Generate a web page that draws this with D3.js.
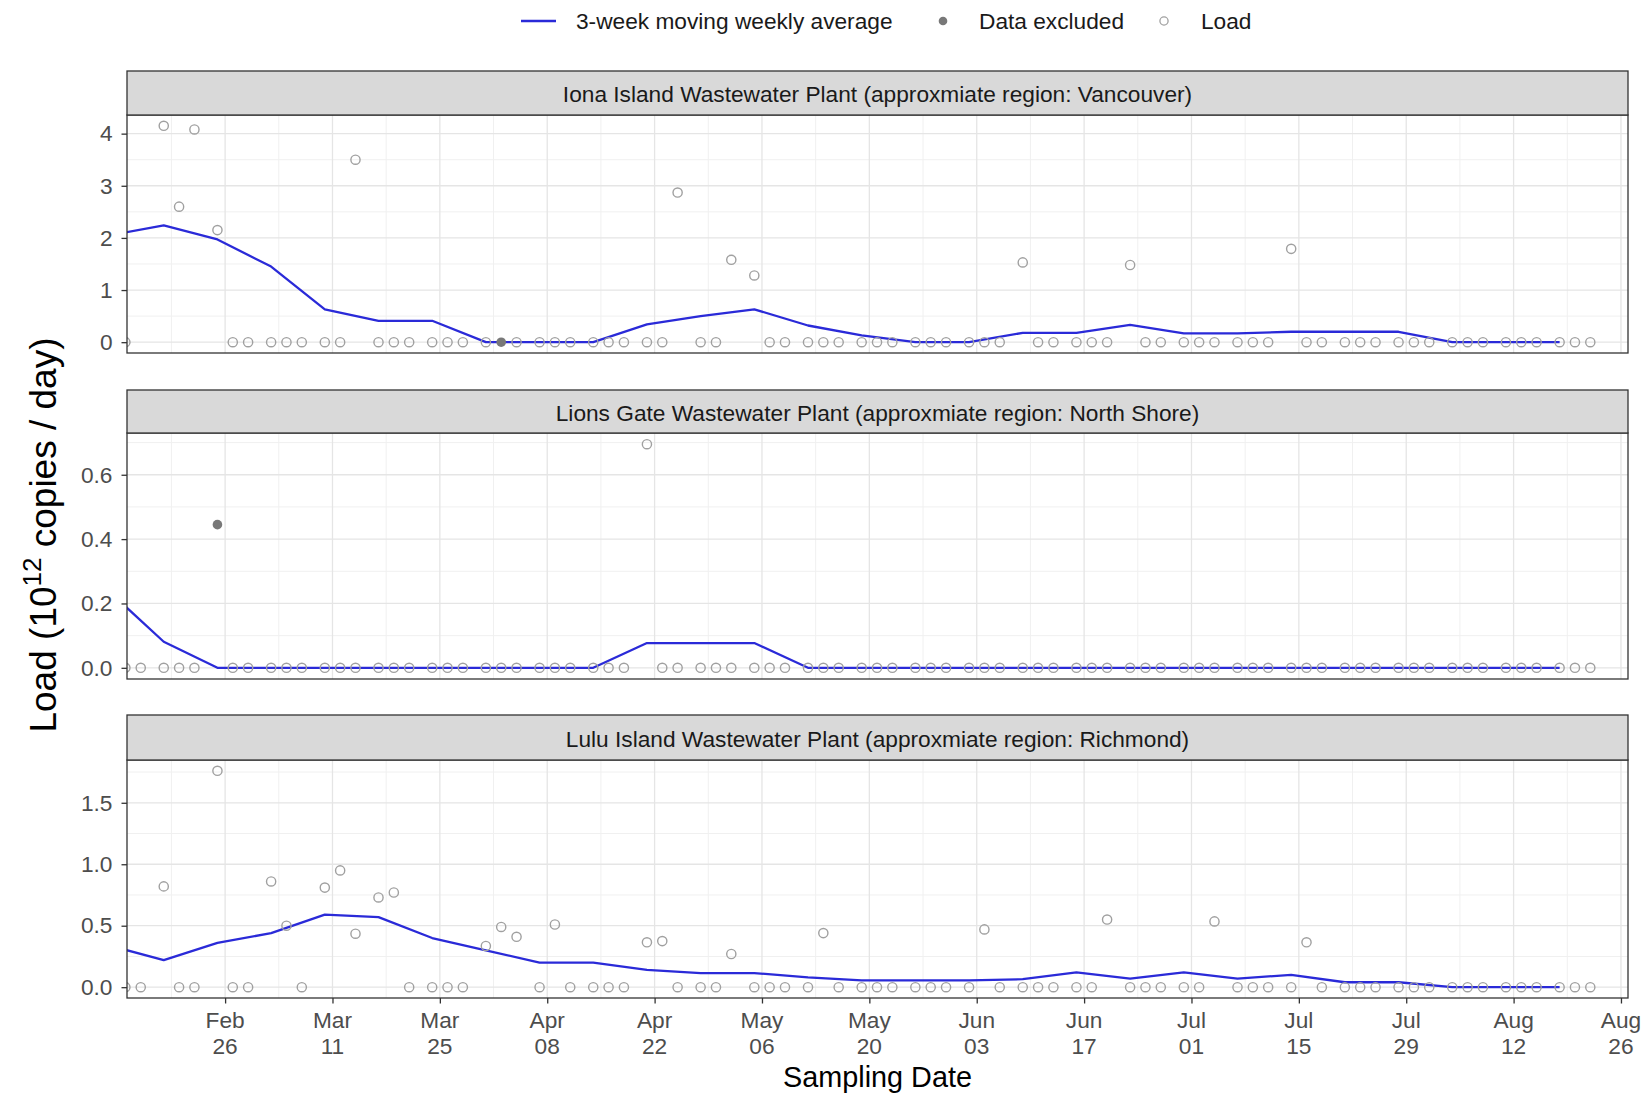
<!DOCTYPE html>
<html>
<head>
<meta charset="utf-8">
<script src="https://cdn.jsdelivr.net/npm/d3@7"></script>
<style>
  body { margin: 0; background: #ffffff; }
  svg { display: block; font-family: "Liberation Sans", Arial, sans-serif; }
</style>
</head>
<body>
<svg id="chart" width="1645" height="1094"></svg>
<script>
// ---- Data -----------------------------------------------------------------
// Sampling days (Sun / Tue / Thu), 2024
const sampleDates = [
  "2024-02-13","2024-02-15","2024-02-18","2024-02-20","2024-02-22","2024-02-25","2024-02-27","2024-02-29",
  "2024-03-03","2024-03-05","2024-03-07","2024-03-10","2024-03-12","2024-03-14","2024-03-17","2024-03-19","2024-03-21","2024-03-24","2024-03-26","2024-03-28","2024-03-31",
  "2024-04-02","2024-04-04","2024-04-07","2024-04-09","2024-04-11","2024-04-14","2024-04-16","2024-04-18","2024-04-21","2024-04-23","2024-04-25","2024-04-28","2024-04-30",
  "2024-05-02","2024-05-05","2024-05-07","2024-05-09","2024-05-12","2024-05-14","2024-05-16","2024-05-19","2024-05-21","2024-05-23","2024-05-26","2024-05-28","2024-05-30",
  "2024-06-02","2024-06-04","2024-06-06","2024-06-09","2024-06-11","2024-06-13","2024-06-16","2024-06-18","2024-06-20","2024-06-23","2024-06-25","2024-06-27","2024-06-30",
  "2024-07-02","2024-07-04","2024-07-07","2024-07-09","2024-07-11","2024-07-14","2024-07-16","2024-07-18","2024-07-21","2024-07-23","2024-07-25","2024-07-28","2024-07-30",
  "2024-08-01","2024-08-04","2024-08-06","2024-08-08","2024-08-11","2024-08-13","2024-08-15","2024-08-18","2024-08-20","2024-08-22"
];

// Load (10^12 copies / day) per sampling day; null = no sample
const ionaLoad = [
  0, null, 4.15, 2.6, 4.08, 2.15, 0, 0,
  0, 0, 0, 0, 0, 3.5, 0, 0, 0, 0, 0, 0, 0,
  0, 0, 0, 0, 0, 0, 0, 0, 0, 0, 2.87, 0, 0,
  1.58, 1.28, 0, 0, 0, 0, 0, 0, 0, 0, 0, 0, 0,
  0, 0, 0, 1.53, 0, 0, 0, 0, 0, 1.48, 0, 0, 0,
  0, 0, 0, 0, 0, 1.79, 0, 0, 0, 0, 0, 0, 0,
  0, 0, 0, 0, 0, 0, 0, 0, 0, 0
];
const lionsGateLoad = [
  0, 0, 0, 0, 0, 0.445, 0, 0,
  0, 0, 0, 0, 0, 0, 0, 0, 0, 0, 0, 0, 0,
  0, 0, 0, 0, 0, 0, 0, 0, 0.695, 0, 0, 0, 0,
  0, 0, 0, 0, 0, 0, 0, 0, 0, 0, 0, 0, 0,
  0, 0, 0, 0, 0, 0, 0, 0, 0, 0, 0, 0, 0,
  0, 0, 0, 0, 0, 0, 0, 0, 0, 0, 0, 0, 0,
  0, 0, 0, 0, 0, 0, 0, 0, 0, 0
];
const luluLoad = [
  0, 0, 0.82, 0, 0, 1.76, 0, 0,
  0.86, 0.50, 0, 0.81, 0.95, 0.435, 0.73, 0.77, 0, 0, 0, 0, 0.335,
  0.49, 0.41, 0, 0.51, 0, 0, 0, 0, 0.365, 0.375, 0, 0, 0,
  0.27, 0, 0, 0, 0, 0.44, 0, 0, 0, 0, 0, 0, 0,
  0, 0.47, 0, 0, 0, 0, 0, 0, 0.55, 0, 0, 0, 0,
  0, 0.535, 0, 0, 0, 0, 0.365, 0, 0, 0, 0, 0, 0,
  0, 0, 0, 0, 0, 0, 0, 0, 0, 0
];

// Samples flagged as excluded
const ionaExcluded = ["2024-04-02"];
const lionsGateExcluded = ["2024-02-25"];
const luluExcluded = [];

// 3-week moving weekly average, one value per week
const avgWeeks = [
  "2024-02-11","2024-02-18","2024-02-25","2024-03-03","2024-03-10","2024-03-17","2024-03-24","2024-03-31",
  "2024-04-07","2024-04-14","2024-04-21","2024-04-28","2024-05-05","2024-05-12","2024-05-19","2024-05-26",
  "2024-06-02","2024-06-09","2024-06-16","2024-06-23","2024-06-30","2024-07-07","2024-07-14","2024-07-21",
  "2024-07-28","2024-08-04","2024-08-11","2024-08-18"
];
const ionaAvg = [2.05, 2.24, 1.97, 1.45, 0.63, 0.41, 0.41, 0, 0, 0, 0.34, 0.50, 0.63, 0.32, 0.13, 0,
                 0, 0.18, 0.18, 0.33, 0.17, 0.17, 0.20, 0.20, 0.20, 0, 0, 0];
const lionsGateAvg = [0.235, 0.081, 0, 0, 0, 0, 0, 0, 0, 0, 0.077, 0.077, 0.077, 0, 0, 0,
                      0, 0, 0, 0, 0, 0, 0, 0, 0, 0, 0, 0];
const luluAvg = [0.337, 0.22, 0.36, 0.44, 0.59, 0.57, 0.40, 0.30, 0.20, 0.20, 0.14, 0.115, 0.115, 0.08, 0.055, 0.055,
                 0.055, 0.065, 0.12, 0.07, 0.12, 0.07, 0.10, 0.04, 0.04, 0, 0, 0];

const plantTitles = [
  "Iona Island Wastewater Plant (approxmiate region: Vancouver)",
  "Lions Gate Wastewater Plant (approxmiate region: North Shore)",
  "Lulu Island Wastewater Plant (approxmiate region: Richmond)"
];

const xTickDates = ["2024-02-26","2024-03-11","2024-03-25","2024-04-08","2024-04-22","2024-05-06","2024-05-20",
                    "2024-06-03","2024-06-17","2024-07-01","2024-07-15","2024-07-29","2024-08-12","2024-08-26"];
const yTicksIona = [0, 1, 2, 3, 4];
const yTicksLionsGate = [0, 0.2, 0.4, 0.6];
const yTicksLulu = [0, 0.5, 1.0, 1.5];

const legendLabels = ["3-week moving weekly average", "Data excluded", "Load"];
const xAxisTitle = "Sampling Date";

// ---- Layout & style ---------------------------------------------------------
const panelLeft = 127, panelRight = 1628;
const facetBoxes = [
  { stripTop: 71,  plotTop: 115, plotBottom: 353 },
  { stripTop: 390, plotTop: 433, plotBottom: 679 },
  { stripTop: 715, plotTop: 760, plotBottom: 998 }
];
const lineColor = "#2a2ad8";
const pointStroke = "#a0a0a0";
const excludedFill = "#787878";
const borderColor = "#333333";
const gridMajor = "#e5e5e5";
const gridMinor = "#f0f0f0";
const smallFont = 22.7;
const bigFont = 28.8;

const parse = d3.utcParse("%Y-%m-%d");
const parseHM = d3.utcParse("%Y-%m-%d %H:%M");

const svg = d3.select("#chart");

// Shared time axis
const x = d3.scaleUtc()
  .domain([parseHM("2024-02-13 05:00"), parseHM("2024-08-26 22:00")])
  .range([panelLeft, panelRight]);

const majorX = xTickDates.map(parse);
const minorX = [];
for (let i = 0; i < majorX.length - 1; i++) {
  minorX.push(new Date((+majorX[i] + +majorX[i + 1]) / 2));
}
minorX.push(new Date(+majorX[0] - (majorX[1] - majorX[0]) / 2));

const facets = [
  { title: plantTitles[0], load: ionaLoad, excluded: ionaExcluded, avg: ionaAvg, ticks: yTicksIona, fmt: d3.format("d") },
  { title: plantTitles[1], load: lionsGateLoad, excluded: lionsGateExcluded, avg: lionsGateAvg, ticks: yTicksLionsGate, fmt: d3.format(".1f") },
  { title: plantTitles[2], load: luluLoad, excluded: luluExcluded, avg: luluAvg, ticks: yTicksLulu, fmt: d3.format(".1f") }
];

facets.forEach((f, i) => {
  const box = facetBoxes[i];
  const pts = sampleDates
    .map((d, j) => ({ date: parse(d), key: d, value: f.load[j] }))
    .filter(p => p.value !== null);
  const avgPts = avgWeeks.map((d, j) => ({ date: parse(d), value: f.avg[j] }));

  const maxV = d3.max([d3.max(pts, p => p.value), d3.max(avgPts, p => p.value)]);
  const y = d3.scaleLinear()
    .domain([-0.05 * maxV, 1.05 * maxV])
    .range([box.plotBottom, box.plotTop]);

  const g = svg.append("g");

  // panel background
  g.append("rect")
    .attr("x", panelLeft).attr("y", box.plotTop)
    .attr("width", panelRight - panelLeft).attr("height", box.plotBottom - box.plotTop)
    .attr("fill", "#ffffff");

  // minor grid
  const step = f.ticks[1] - f.ticks[0];
  const dom = y.domain();
  const minorY = [];
  for (let k = -1; k < f.ticks.length; k++) {
    const v = f.ticks[0] + step * (k + 0.5);
    if (v > dom[0] && v < dom[1]) minorY.push(v);
  }
  g.append("g").selectAll("line").data(minorY).join("line")
    .attr("x1", panelLeft).attr("x2", panelRight)
    .attr("y1", d => y(d)).attr("y2", d => y(d))
    .attr("stroke", gridMinor).attr("stroke-width", 1);
  g.append("g").selectAll("line").data(minorX.filter(d => x(d) > panelLeft && x(d) < panelRight)).join("line")
    .attr("x1", d => x(d)).attr("x2", d => x(d))
    .attr("y1", box.plotTop).attr("y2", box.plotBottom)
    .attr("stroke", gridMinor).attr("stroke-width", 1);

  // major grid
  g.append("g").selectAll("line").data(f.ticks).join("line")
    .attr("x1", panelLeft).attr("x2", panelRight)
    .attr("y1", d => y(d)).attr("y2", d => y(d))
    .attr("stroke", gridMajor).attr("stroke-width", 1.3);
  g.append("g").selectAll("line").data(majorX).join("line")
    .attr("x1", d => x(d)).attr("x2", d => x(d))
    .attr("y1", box.plotTop).attr("y2", box.plotBottom)
    .attr("stroke", gridMajor).attr("stroke-width", 1.3);

  // clip for data marks
  const clipId = "clip" + i;
  svg.append("clipPath").attr("id", clipId)
    .append("rect")
    .attr("x", panelLeft).attr("y", box.plotTop)
    .attr("width", panelRight - panelLeft).attr("height", box.plotBottom - box.plotTop);

  const marks = g.append("g").attr("clip-path", `url(#${clipId})`);

  // moving-average line
  marks.append("path")
    .datum(avgPts)
    .attr("fill", "none")
    .attr("stroke", lineColor)
    .attr("stroke-width", 2.3)
    .attr("stroke-linejoin", "round")
    .attr("d", d3.line().x(d => x(d.date)).y(d => y(d.value)));

  // sample points
  const excludedSet = new Set(f.excluded);
  marks.append("g").selectAll("circle").data(pts).join("circle")
    .attr("cx", d => x(d.date))
    .attr("cy", d => y(d.value))
    .attr("r", d => excludedSet.has(d.key) ? 4.8 : 4.6)
    .attr("fill", d => excludedSet.has(d.key) ? excludedFill : "none")
    .attr("stroke", d => excludedSet.has(d.key) ? "none" : pointStroke)
    .attr("stroke-width", 1.4);

  // panel border
  g.append("rect")
    .attr("x", panelLeft).attr("y", box.plotTop)
    .attr("width", panelRight - panelLeft).attr("height", box.plotBottom - box.plotTop)
    .attr("fill", "none").attr("stroke", borderColor).attr("stroke-width", 1.3);

  // strip
  g.append("rect")
    .attr("x", panelLeft).attr("y", box.stripTop)
    .attr("width", panelRight - panelLeft).attr("height", box.plotTop - box.stripTop)
    .attr("fill", "#d9d9d9").attr("stroke", borderColor).attr("stroke-width", 1.3);
  g.append("text")
    .attr("x", (panelLeft + panelRight) / 2)
    .attr("y", (box.stripTop + box.plotTop) / 2 + 1)
    .attr("text-anchor", "middle")
    .attr("dominant-baseline", "central")
    .attr("font-size", smallFont)
    .attr("fill", "#1a1a1a")
    .text(f.title);

  // y axis
  const yAxis = d3.axisLeft(y).tickValues(f.ticks).tickFormat(f.fmt).tickSize(5.5).tickPadding(9);
  const ya = g.append("g").attr("transform", `translate(${panelLeft},0)`).call(yAxis);
  ya.select(".domain").remove();
  ya.selectAll(".tick line").attr("stroke", borderColor).attr("stroke-width", 1.3);
  ya.selectAll(".tick text")
    .attr("font-size", smallFont)
    .attr("font-family", "Liberation Sans, Arial, sans-serif")
    .attr("fill", "#4d4d4d");

  // x axis on the bottom facet only
  if (i === facets.length - 1) {
    const xAxis = d3.axisBottom(x).tickValues(majorX).tickSize(5.5).tickFormat("");
    const xa = g.append("g").attr("transform", `translate(0,${box.plotBottom})`).call(xAxis);
    xa.select(".domain").remove();
    xa.selectAll(".tick line").attr("stroke", borderColor).attr("stroke-width", 1.3);
    const fmtMon = d3.utcFormat("%b"), fmtDay = d3.utcFormat("%d");
    const lbl = g.append("g").selectAll("text").data(majorX).join("text")
      .attr("x", d => x(d))
      .attr("text-anchor", "middle")
      .attr("font-size", smallFont)
      .attr("fill", "#4d4d4d");
    lbl.append("tspan").attr("x", d => x(d)).attr("y", box.plotBottom + 30).text(d => fmtMon(d));
    lbl.append("tspan").attr("x", d => x(d)).attr("y", box.plotBottom + 56).text(d => fmtDay(d));
  }
});

// axis titles
svg.append("text")
  .attr("x", (panelLeft + panelRight) / 2)
  .attr("y", 1087)
  .attr("text-anchor", "middle")
  .attr("font-size", bigFont)
  .attr("fill", "#000")
  .text(xAxisTitle);

const yTitle = svg.append("text")
  .attr("transform", "translate(56,535) rotate(-90)")
  .attr("text-anchor", "middle")
  .attr("font-size", 37)
  .attr("fill", "#000");
yTitle.append("tspan").text("Load (10");
yTitle.append("tspan").attr("font-size", 26).attr("dy", -15).text("12");
yTitle.append("tspan").attr("dy", 15).text(" copies / day)");

// legend
const legY = 21;
const leg = svg.append("g");
leg.append("line")
  .attr("x1", 521).attr("x2", 556).attr("y1", legY).attr("y2", legY)
  .attr("stroke", lineColor).attr("stroke-width", 2.5);
leg.append("text").attr("x", 576).attr("y", legY).attr("dominant-baseline", "central")
  .attr("font-size", smallFont).attr("fill", "#1a1a1a").text(legendLabels[0]);
leg.append("circle").attr("cx", 943).attr("cy", legY).attr("r", 4.3).attr("fill", excludedFill);
leg.append("text").attr("x", 979).attr("y", legY).attr("dominant-baseline", "central")
  .attr("font-size", smallFont).attr("fill", "#1a1a1a").text(legendLabels[1]);
leg.append("circle").attr("cx", 1164).attr("cy", legY).attr("r", 4.1)
  .attr("fill", "none").attr("stroke", pointStroke).attr("stroke-width", 1.3);
leg.append("text").attr("x", 1201).attr("y", legY).attr("dominant-baseline", "central")
  .attr("font-size", smallFont).attr("fill", "#1a1a1a").text(legendLabels[2]);
</script>
</body>
</html>
